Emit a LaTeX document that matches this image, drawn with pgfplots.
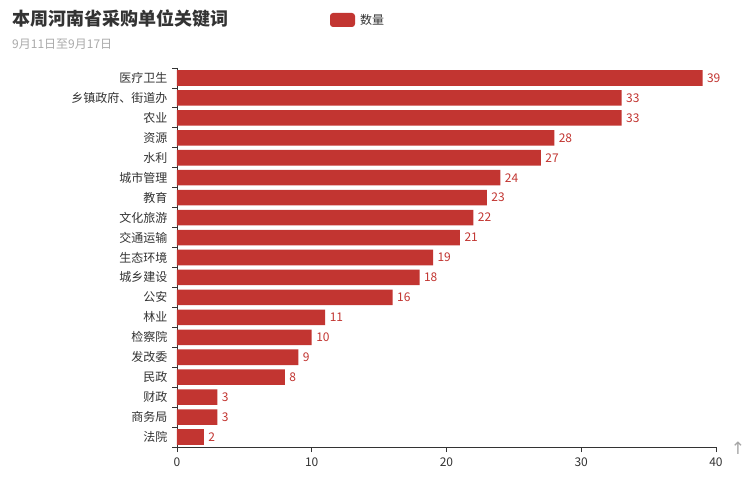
\documentclass[border=0pt]{standalone}
\usepackage{pgfplots}
\pgfplotsset{compat=1.18}
\usepackage{fontspec}
\setmainfont{Noto Sans CJK SC}
\newfontfamily\symfont{DejaVu Sans}
\definecolor{barred}{HTML}{C23531}
\definecolor{txt}{HTML}{333333}
\definecolor{sub}{HTML}{AAAAAA}
\begin{document}
\begin{tikzpicture}
\path[fill=white,use as bounding box] (0pt,0pt) rectangle (753pt,481pt);
% title
\node[anchor=west,font=\fontsize{18}{20}\selectfont\bfseries,text=txt,inner sep=0] at (12pt,462pt) {本周河南省采购单位关键词};
\node[anchor=west,font=\fontsize{12}{14}\selectfont,text=sub,inner sep=0] at (12pt,437pt) {9月11日至9月17日};
% legend
\fill[barred,rounded corners=3pt] (330pt,454pt) rectangle (355pt,468pt);
\node[anchor=west,font=\fontsize{12}{14}\selectfont,text=txt,inner sep=0] at (360pt,461pt) {数量};
\node[font=\fontsize{17}{18}\selectfont\symfont,text=gray!70,inner sep=0] at (738pt,33pt) {↑};
\begin{axis}[
  at={(177pt,34pt)}, anchor=south west,
  width=539pt, height=379pt, scale only axis,
  xbar, bar width=0.78,
  xmin=0, xmax=40,
  ymin=-0.5, ymax=18.5, y dir=reverse,
  xtick={0,10,20,30,40},
  ytick={0,...,18},
  yticklabels={医疗卫生,乡镇政府、街道办,农业,资源,水利,城市管理,教育,文化旅游,交通运输,生态环境,城乡建设,公安,林业,检察院,发改委,民政,财政,商务局,法院},
  axis x line*=bottom, axis y line*=left,
  axis line style={draw=txt, line width=0.8pt, -},
  tick align=outside, major tick length=5pt,
  xtick style={draw=txt, line width=0.8pt},
  ytick style={draw=none},
  tick label style={font=\fontsize{12}{14}\selectfont, text=txt},
  xticklabel style={yshift=-2pt},
  yticklabel style={xshift=-1pt},
  /pgf/number format/assume math mode=true,
  nodes near coords,
  nodes near coords align={horizontal},
  every node near coord/.append style={font=\fontsize{12}{14}\selectfont, text=barred, xshift=1pt},
  clip=false,
]
\addplot[fill=barred, draw=none] coordinates {
(39,0) (33,1) (33,2) (28,3) (27,4) (24,5) (23,6) (22,7) (21,8) (19,9) (18,10) (16,11) (11,12) (10,13) (9,14) (8,15) (3,16) (3,17) (2,18)};
\pgfplotsinvokeforeach{-0.5,0.5,...,18.5}{
  \draw[txt, line width=0.8pt] (axis cs:0,#1) -- ++(-5pt,0pt);
}
\end{axis}
\end{tikzpicture}
\end{document}
